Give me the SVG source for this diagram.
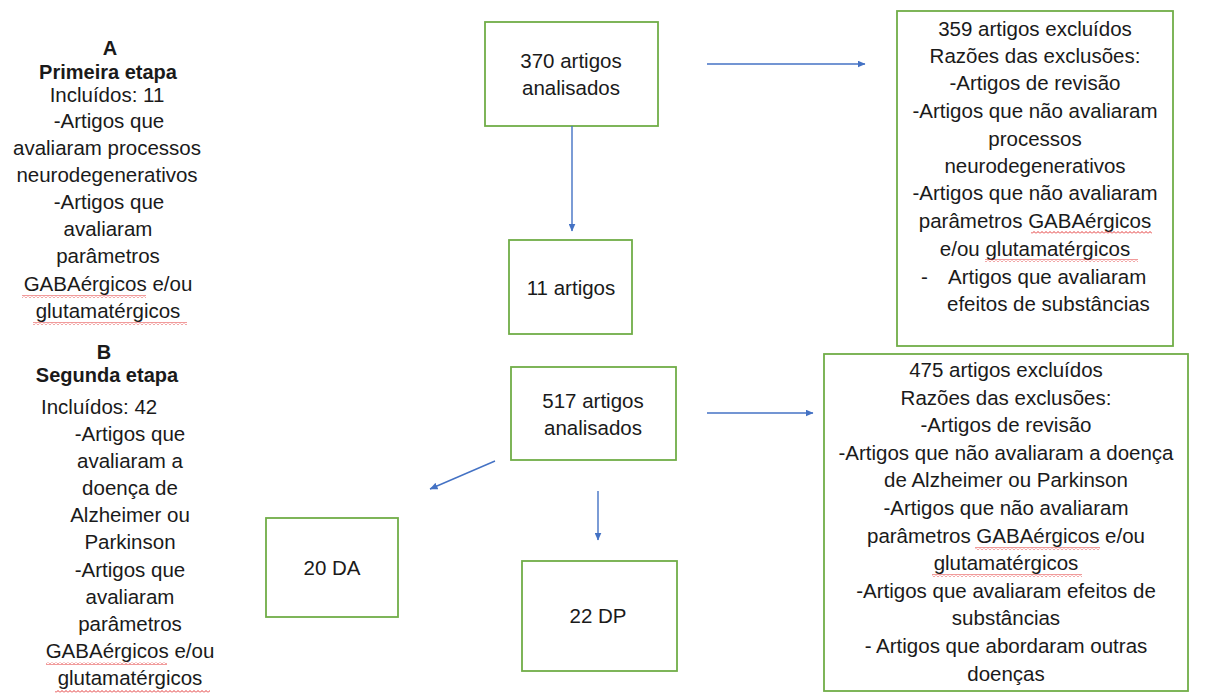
<svg xmlns="http://www.w3.org/2000/svg" width="1209" height="695" viewBox="0 0 1209 695">
<style>
text{font-family:"Liberation Sans",Arial,sans-serif;font-size:20.5px;fill:#1a1a1a}
.c{text-anchor:middle}
.b{font-weight:bold;font-size:20px}
.box{fill:#fff;stroke:#70AD47;stroke-width:1.8}
.con{stroke:#4472C4;stroke-width:1.4;fill:none;marker-end:url(#ah)}
.wv{fill:url(#wavy)}
</style>
<defs>
<marker id="ah" markerWidth="8" markerHeight="7" refX="7.5" refY="3.5" orient="auto" markerUnits="userSpaceOnUse">
<path d="M0,0 L8,3.5 L0,7 z" fill="#4472C4"/>
</marker>
<pattern id="wavy" width="4" height="3" patternUnits="userSpaceOnUse">
<path d="M0,2.5 L2,0.5 L4,2.5" fill="none" stroke="#e02020" stroke-width="0.9"/>
</pattern>
</defs>
<rect width="1209" height="695" fill="#fff"/>

<g id="stageA">
<text class="c b" x="110" y="55">A</text>
<text class="c b" x="108" y="78.5">Primeira etapa</text>
<text class="c" x="107" y="102">Incluídos: 11</text>
<text class="c" x="109" y="127.5">-Artigos que</text>
<text class="c" x="107" y="154.5">avaliaram processos</text>
<text class="c" x="107" y="182">neurodegenerativos</text>
<text class="c" x="109" y="209">-Artigos que</text>
<text class="c" x="108" y="236">avaliaram</text>
<text class="c" x="108" y="263">parâmetros</text>
<text class="c" x="108" y="291">GABAérgicos e/ou</text>
<text class="c" x="108" y="318">glutamatérgicos</text>
<rect class="wv" x="22" y="295" width="124" height="3"/>
<rect class="wv" x="33" y="322" width="154" height="3"/>
</g>

<g id="stageB">
<text class="c b" x="104" y="359">B</text>
<text class="c b" x="107" y="382">Segunda etapa</text>
<text x="41" y="414">Incluídos: 42</text>
<text class="c" x="130" y="441">-Artigos que</text>
<text class="c" x="130" y="468">avaliaram a</text>
<text class="c" x="130" y="495">doença de</text>
<text class="c" x="130" y="522">Alzheimer ou</text>
<text class="c" x="130" y="549">Parkinson</text>
<text class="c" x="130" y="577">-Artigos que</text>
<text class="c" x="130" y="604">avaliaram</text>
<text class="c" x="130" y="631">parâmetros</text>
<text class="c" x="130" y="658">GABAérgicos e/ou</text>
<text class="c" x="130" y="685">glutamatérgicos</text>
<rect class="wv" x="46" y="662" width="121" height="3"/>
<rect class="wv" x="55" y="690" width="155" height="3"/>
</g>

<g id="n370">
<rect class="box" x="485" y="22" width="173" height="104"/>
<text class="c" x="571" y="68">370 artigos</text>
<text class="c" x="571" y="95">analisados</text>
</g>

<g id="n11">
<rect class="box" x="509" y="240" width="123" height="94"/>
<text class="c" x="571" y="295">11 artigos</text>
</g>

<g id="n359">
<rect class="box" x="897" y="11" width="276" height="335"/>
<text class="c" x="1035" y="36">359 artigos excluídos</text>
<text class="c" x="1035" y="63">Razões das exclusões:</text>
<text class="c" x="1035" y="90">-Artigos de revisão</text>
<text class="c" x="1035" y="118">-Artigos que não avaliaram</text>
<text class="c" x="1035" y="146">processos</text>
<text class="c" x="1035" y="173">neurodegenerativos</text>
<text class="c" x="1035" y="200">-Artigos que não avaliaram</text>
<text class="c" x="1035" y="228">parâmetros GABAérgicos</text>
<text class="c" x="1035" y="256">e/ou glutamatérgicos</text>
<text x="921" y="284">-</text>
<text x="948" y="284">Artigos que avaliaram</text>
<text x="947" y="311">efeitos de substâncias</text>
<rect class="wv" x="1031" y="231" width="121" height="3"/>
<rect class="wv" x="985" y="259" width="153" height="3"/>
</g>

<g id="n517">
<rect class="box" x="511" y="367" width="165" height="93"/>
<text class="c" x="593" y="408">517 artigos</text>
<text class="c" x="593" y="435">analisados</text>
</g>

<g id="n20DA">
<rect class="box" x="266" y="518" width="132" height="99"/>
<text class="c" x="332" y="575">20 DA</text>
</g>

<g id="n22DP">
<rect class="box" x="522" y="561" width="155" height="110"/>
<text class="c" x="598" y="623">22 DP</text>
</g>

<g id="n475">
<rect class="box" x="824" y="354" width="364" height="337"/>
<text class="c" x="1006" y="377">475 artigos excluídos</text>
<text class="c" x="1006" y="404.5">Razões das exclusões:</text>
<text class="c" x="1006" y="432">-Artigos de revisão</text>
<text class="c" x="1006" y="460">-Artigos que não avaliaram a doença</text>
<text class="c" x="1006" y="487">de Alzheimer ou Parkinson</text>
<text class="c" x="1006" y="515">-Artigos que não avaliaram</text>
<text class="c" x="1006" y="543">parâmetros GABAérgicos e/ou</text>
<text class="c" x="1006" y="570">glutamatérgicos</text>
<text class="c" x="1006" y="598">-Artigos que avaliaram efeitos de</text>
<text class="c" x="1006" y="625">substâncias</text>
<text class="c" x="1006" y="653">- Artigos que abordaram outras</text>
<text class="c" x="1006" y="681">doenças</text>
<rect class="wv" x="975" y="547" width="125" height="3"/>
<rect class="wv" x="932" y="574" width="150" height="3"/>
</g>

<g id="connectors">
<line class="con" x1="707" y1="64" x2="865" y2="64"/>
<line class="con" x1="572" y1="126" x2="572" y2="231"/>
<line class="con" x1="707" y1="413" x2="813" y2="413"/>
<line class="con" x1="495" y1="461" x2="430" y2="489"/>
<line class="con" x1="598" y1="491" x2="598" y2="540"/>
</g>
</svg>
